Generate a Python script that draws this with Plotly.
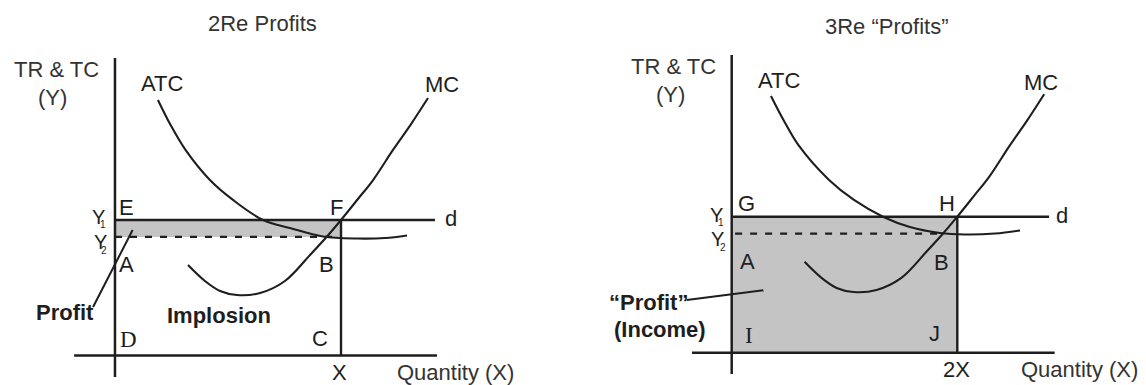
import plotly.graph_objects as go

# ---------------- data: left panel "2Re Profits" (quantity in units of X, Y1 = 10) -------------
left_X = 1.0
left_Y1 = 10.0
left_Y2 = 8.75
left_atc_q = [0.190, 0.246, 0.312, 0.420, 0.522, 0.655, 0.774, 0.920, 1.071, 1.195, 1.292]
left_atc_p = [18.86, 17.01, 15.17, 12.95, 11.48, 10.00, 9.41, 8.78, 8.63, 8.67, 8.86]
left_mc_q = [0.323, 0.398, 0.465, 0.540, 0.642, 0.752, 0.863, 0.938, 1.000, 1.075, 1.142, 1.230, 1.310, 1.385]
left_mc_p = [6.68, 5.50, 4.76, 4.46, 4.61, 5.50, 7.42, 8.78, 10.00, 11.55, 12.95, 15.17, 17.08, 19.00]

# ---------------- data: right panel "3Re Profits" (quantity in units of X, output = 2X) --------
right_X = 2.0
right_Y1 = 10.0
right_Y2 = 8.75
right_atc_q = [0.348, 0.464, 0.597, 0.863, 1.084, 1.341, 1.580, 1.847, 2.069, 2.335, 2.556]
right_atc_p = [18.88, 17.04, 15.20, 12.70, 11.23, 10.00, 9.24, 8.80, 8.69, 8.76, 8.99]
right_mc_q = [0.646, 0.796, 0.930, 1.080, 1.284, 1.504, 1.726, 1.876, 2.000, 2.150, 2.284, 2.460, 2.620, 2.770]
right_mc_p = [6.68, 5.50, 4.76, 4.46, 4.61, 5.50, 7.42, 8.78, 10.00, 11.55, 12.95, 15.17, 17.08, 19.00]

titles = ["2Re Profits", "3Re \u201cProfits\u201d"]

# ---------------- styling / geometry -------------------------------------------------------------
INK = "#1e1e1e"
SHADE = "#c4c4c4"
SANS = "Liberation Sans, Arial, sans-serif"
SERIF = "Liberation Serif, Times New Roman, serif"
FS = 22

fig = go.Figure()


def line(q, p, xa, ya, width=2.2, dash=None, shape="linear"):
    fig.add_trace(go.Scatter(x=q, y=p, xaxis=xa, yaxis=ya, mode="lines",
                             line=dict(color=INK, width=width, dash=dash, shape=shape, smoothing=1.0),
                             hoverinfo="skip", showlegend=False))


def shade(q0, q1, p0, p1, xa, ya):
    fig.add_trace(go.Scatter(x=[q0, q1, q1, q0, q0], y=[p0, p0, p1, p1, p0], xaxis=xa, yaxis=ya,
                             mode="lines", fill="toself", fillcolor=SHADE, line=dict(width=0),
                             hoverinfo="skip", showlegend=False))


# left panel
shade(0, left_X, left_Y2, left_Y1, "x", "y")
line([0, 0], [-1.59, 21.96], "x", "y", 2.5)
line([-0.181, 1.425], [0, 0], "x", "y", 2.5)
line([0, 1.416], [left_Y1, left_Y1], "x", "y", 2.4)
line([0, left_X], [left_Y2, left_Y2], "x", "y", 2.2, dash="7px,8px")
line([left_X, left_X], [0, left_Y1], "x", "y", 2.4)
line(left_atc_q, left_atc_p, "x", "y", 2.1, shape="spline")
line(left_mc_q, left_mc_p, "x", "y", 2.1, shape="spline")
line([-0.097, 0.078], [3.58, 9.26], "x", "y", 2.0)

# right panel
shade(0, right_X, 0, right_Y1, "x2", "y2")
line([0, 0], [-1.57, 21.89], "x2", "y2", 2.5)
line([-0.352, 2.863], [0, 0], "x2", "y2", 2.5)
line([0, 2.813], [right_Y1, right_Y1], "x2", "y2", 2.4)
line([0.03, 1.87], [right_Y2, right_Y2], "x2", "y2", 2.2, dash="7px,8px")
line([right_X, right_X], [0, right_Y1], "x2", "y2", 2.4)
line(right_atc_q, right_atc_p, "x2", "y2", 2.1, shape="spline")
line(right_mc_q, right_mc_p, "x2", "y2", 2.1, shape="spline")
line([-0.399, 0.280], [3.87, 4.60], "x2", "y2", 2.0)

ann = []


def txt(t, x, y, xr, yr, size=FS, family=SANS, xanchor="center", yanchor="middle", color=INK):
    ann.append(dict(text=t, x=x, y=y, xref=xr, yref=yr, showarrow=False, xanchor=xanchor,
                    yanchor=yanchor, font=dict(size=size, family=family, color=color)))


# titles
txt(titles[0], 262.5 / 1146, 1 - 23.5 / 385, "paper", "paper", color="#333333")
txt(titles[1], 886.5 / 1146, 1 - 26.5 / 385, "paper", "paper", color="#333333")

# left labels
L = ("x", "y")
txt("TR &amp; TC", -0.259, 21.11, *L, color="#333333")
txt("(Y)", -0.277, 19.05, *L, color="#333333")
txt("ATC", 0.206, 20.07, *L)
txt("MC", 1.447, 20.0, *L)
txt("E", 0.049, 10.92, *L)
txt("F", 0.982, 10.92, *L)
txt("d", 1.487, 10.1, *L)
txt("Y", -0.071, 10.22, *L, size=20)
txt("1", -0.053, 9.68, *L, size=10)
txt("Y", -0.062, 8.4, *L, size=20)
txt("2", -0.047, 7.78, *L, size=10)
txt("A", 0.053, 6.72, *L)
txt("B", 0.934, 6.72, *L)
txt("<b>Profit</b>", -0.221, 3.21, *L)
txt("<b>Implosion</b>", 0.460, 2.95, *L)
txt("D", 0.058, 1.18, *L, family=SERIF, size=23)
txt("C", 0.907, 1.25, *L)
txt("X", 0.993, -1.29, *L)
txt("Quantity (X)", 1.239, -1.22, *L, xanchor="left", color="#333333")

# right labels
R = ("x2", "y2")
txt("TR &amp; TC", -0.512, 21.08, *R, color="#333333")
txt("(Y)", -0.547, 18.95, *R, color="#333333")
txt("ATC", 0.419, 19.98, *R)
txt("MC", 2.742, 19.87, *R)
txt("G", 0.131, 10.97, *R)
txt("H", 1.909, 10.97, *R)
txt("d", 2.928, 10.1, *R)
txt("Y", -0.139, 10.09, *R, size=20)
txt("1", -0.095, 9.58, *R, size=10)
txt("Y", -0.126, 8.36, *R, size=20)
txt("2", -0.077, 7.74, *R, size=10)
txt("A", 0.139, 6.74, *R)
txt("B", 1.864, 6.63, *R)
txt("<b>\u201cProfit\u201d</b>", -0.370, 3.68, *R, xanchor="right")
txt("<b>(Income)</b>", -0.210, 1.74, *R, xanchor="right")
txt("I", 0.153, 1.23, *R, family=SERIF, size=23)
txt("J", 1.802, 1.38, *R)
txt("2X", 1.993, -1.27, *R)
txt("Quantity (X)", 2.543, -1.27, *R, xanchor="left", color="#333333")

hidden = dict(visible=False, showgrid=False, zeroline=False, fixedrange=True)
fig.update_layout(
    width=1146, height=385,
    margin=dict(l=0, r=0, t=0, b=0),
    paper_bgcolor="white", plot_bgcolor="white",
    showlegend=False,
    xaxis=dict(domain=[0, 0.5], range=[-0.5088, 2.0265], **hidden),
    yaxis=dict(domain=[0, 1], range=[-2.177, 26.236], anchor="x", **hidden),
    xaxis2=dict(domain=[0.5, 1], range=[-1.407, 3.673], anchor="y2", **hidden),
    yaxis2=dict(domain=[0, 1], range=[-2.375, 25.934], anchor="x2", **hidden),
    annotations=ann,
)

fig.write_html("out.html", config={"displayModeBar": False},
               post_script="document.body.style.margin='0';document.body.style.overflow='hidden';")
